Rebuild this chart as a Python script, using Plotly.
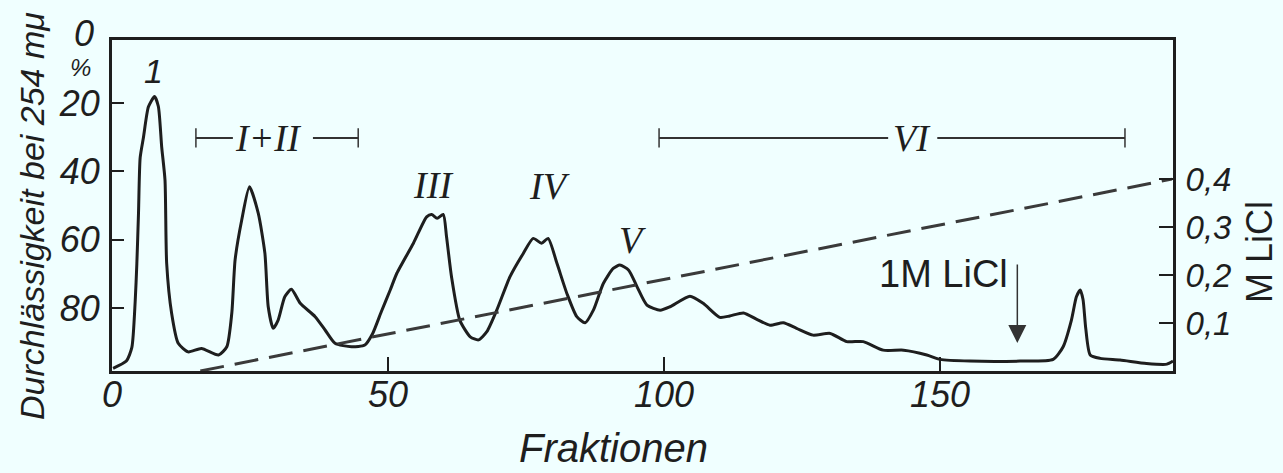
import plotly.graph_objects as go

# ---- data ----
fraktion = [0.2, 2.6, 3.6, 4.2, 4.5, 4.8, 5.1, 5.7, 6.6, 7.7, 8.4, 9.0, 9.6, 9.9, 10.8, 12.0,
            13.8, 16.2, 19.3, 20.8, 21.7, 22.3, 23.5, 24.9, 26.5, 27.7, 28.3, 29.2, 30.1, 31.3,
            32.5, 34.1, 36.8, 38.6, 40.4, 43.4, 45.8, 47.2, 48.8, 50.4, 51.6, 54.6, 57.0, 57.9,
            58.9, 60.0, 60.6, 61.5, 63.0, 64.9, 66.4, 67.9, 69.7, 72.1, 74.5, 76.3, 77.8, 79.0,
            80.6, 82.4, 84.2, 85.7, 87.2, 89.0, 90.8, 92.0, 93.6, 95.1, 96.9, 99.3, 101.1, 104.7,
            107.1, 110.1, 111.9, 114.4, 116.8, 119.2, 121.6, 124.0, 127.0, 130.1, 133.1, 136.1,
            139.7, 143.4, 147.6, 150.0, 155.4, 164.5, 170.5, 172.3, 173.8, 174.7, 175.4, 175.9,
            176.4, 177.2, 179.0, 182.6, 187.4, 191.1, 192.2]
durchlaessigkeit = [97.6, 95.5, 91.5, 78.0, 67.0, 52.2, 36.0, 30.0, 21.1, 18.1, 21.0, 32.8, 42.5,
                    66.8, 81.5, 90.3, 92.8, 91.8, 93.7, 91.3, 81.5, 65.9, 54.2, 44.5, 52.3, 64.0,
                    79.6, 85.9, 83.5, 76.7, 74.5, 78.6, 82.5, 86.4, 90.3, 91.3, 90.8, 87.5, 81.0,
                    74.7, 69.8, 61.0, 53.3, 52.6, 53.7, 52.6, 59.1, 70.8, 83.5, 88.4, 89.3, 86.9,
                    80.6, 70.8, 64.0, 59.6, 61.0, 59.6, 66.9, 75.7, 82.5, 84.3, 80.6, 72.8, 68.4,
                    67.4, 68.9, 73.7, 79.1, 80.6, 79.6, 76.5, 78.6, 82.7, 82.3, 81.4, 83.3, 85.0,
                    84.3, 85.9, 87.9, 87.4, 89.8, 89.8, 92.3, 92.3, 93.7, 95.0, 95.5, 95.5, 95.0,
                    91.3, 83.5, 76.7, 74.7, 77.5, 86.0, 93.7, 94.7, 95.2, 96.2, 96.4, 95.5]

gradient_x = [16, 192]
gradient_licl = [0.0, 0.4]

x_ticks = [0, 50, 100, 150]
y_ticks = [20, 40, 60, 80]
y2_ticks = [0.1, 0.2, 0.3, 0.4]
y2_labels = ["0,1", "0,2", "0,3", "0,4"]

peak_labels = ["1", "III", "IV", "V"]
peak_x = [7.6, 58.3, 79.2, 94.2]
peak_y = [10.5, 44.0, 44.3, 60.1]

bracket_labels = ["I+II", "VI"]
bracket_start = [15.2, 99.1]
bracket_end = [44.6, 183.5]
bracket_text_x = [28.3, 144.9]
bracket_gap = [[21.9, 36.4], [140.6, 149.5]]
bracket_y = 30.2

licl_step_x = 164.0

# ---- layout geometry ----
W, H = 1283, 473
L, R, T, B = 112, 110, 40, 102
PW, PH = W - L - R, H - T - B


def xp(px):
    return (px - L) / PW


def yp(py):
    return (H - B - py) / PH


INK = "#1e1e1e"
BG = "#F0FFFF"
SANS = "Liberation Sans, Arial, sans-serif"
SERIF = "Liberation Serif, Times New Roman, serif"

fig = go.Figure()
fig.add_trace(go.Scatter(x=fraktion, y=durchlaessigkeit, mode="lines",
                         line=dict(color=INK, width=3, shape="spline", smoothing=0.6),
                         showlegend=False, hoverinfo="skip"))
fig.add_trace(go.Scatter(x=gradient_x, y=gradient_licl, mode="lines", yaxis="y2",
                         line=dict(color="#3a3a3a", width=3, dash="24px,11px"),
                         showlegend=False, hoverinfo="skip"))

tickfont = dict(family=SANS, size=36, color=INK, style="italic")
tickfont2 = dict(family=SANS, size=33, color=INK, style="italic")

fig.update_layout(
    width=W, height=H,
    margin=dict(l=L, r=R, t=T, b=B, pad=0),
    paper_bgcolor=BG, plot_bgcolor=BG,
    xaxis=dict(range=[0, 192.2], tickvals=x_ticks, ticks="inside", ticklen=14, tickwidth=1.5,
               tickcolor=INK, showline=True, linewidth=2.5, linecolor=INK, mirror=True,
               showgrid=False, zeroline=False, tickfont=tickfont, ticklabelstandoff=-10),
    yaxis=dict(range=[98.4, 1.55], tickvals=y_ticks, ticks="inside", ticklen=12, tickwidth=1.5,
               tickcolor=INK, showline=True, linewidth=3, linecolor=INK,
               showgrid=False, zeroline=False, tickfont=tickfont, ticklabelstandoff=2),
    yaxis2=dict(range=[0, 0.69], overlaying="y", side="right", tickvals=y2_ticks,
                ticktext=y2_labels, ticks="inside", ticklen=14, tickwidth=1.5, tickcolor=INK,
                showline=True, linewidth=3, linecolor=INK, showgrid=False, zeroline=False,
                tickfont=tickfont2, ticklabelstandoff=3),
)

ann = []


def paper_text(text, px, py, size, angle=0, italic=True, family=SANS):
    d = dict(text=text, x=xp(px), y=yp(py), xref="paper", yref="paper", textangle=angle,
             xanchor="center", yanchor="middle", showarrow=False,
             font=dict(family=family, size=size, color=INK, style="italic" if italic else "normal"))
    ann.append(d)


# axis titles and corner labels
paper_text("Durchlässigkeit bei 254 mμ", 32, 216, 34, angle=-90)
paper_text("Fraktionen", 613, 448, 40)
paper_text("M LiCl", 1259, 252, 36, angle=-90, italic=False)
paper_text("0", 84, 33, 36)
paper_text("%", 80, 67, 24)

# peak labels
for t, x, y in zip(peak_labels, peak_x, peak_y):
    fam = SANS if t == "1" else SERIF
    ann.append(dict(text=t, x=x, y=y, xref="x", yref="y", showarrow=False,
                    xanchor="center", yanchor="middle",
                    font=dict(family=fam, size=38 if t != "1" else 34, color=INK, style="italic")))

# bracket labels
for t, x in zip(bracket_labels, bracket_text_x):
    ann.append(dict(text=t, x=x, y=bracket_y, xref="x", yref="y", showarrow=False,
                    xanchor="center", yanchor="middle",
                    font=dict(family=SERIF, size=38, color=INK, style="italic")))

shapes = []
for x0, x1, gap in zip(bracket_start, bracket_end, bracket_gap):
    shapes.append(dict(type="line", xref="x", yref="y", x0=x0, x1=gap[0], y0=bracket_y, y1=bracket_y,
                       line=dict(color="#333", width=2)))
    shapes.append(dict(type="line", xref="x", yref="y", x0=gap[1], x1=x1, y0=bracket_y, y1=bracket_y,
                       line=dict(color="#333", width=2)))
    for xe in (x0, x1):
        shapes.append(dict(type="line", xref="x", yref="y", x0=xe, x1=xe, y0=bracket_y - 2.8,
                           y1=bracket_y + 2.8, line=dict(color="#333", width=1.5)))

# 1M LiCl label with arrow
ann.append(dict(text="1M LiCl", x=150.7, y=70.0, xref="x", yref="y", showarrow=False,
                xanchor="center", yanchor="middle", font=dict(family=SANS, size=38, color=INK)))
ann.append(dict(text="", x=licl_step_x, y=90.2, xref="x", yref="y", ax=0, ay=-80,
                showarrow=True, arrowhead=2, arrowsize=2.4, arrowwidth=1.5, arrowcolor="#333"))

fig.update_layout(annotations=ann, shapes=shapes)
fig.write_html("out.html", config={"displayModeBar": False},
               post_script="document.body.style.margin='0';document.body.style.background='#F0FFFF';")
